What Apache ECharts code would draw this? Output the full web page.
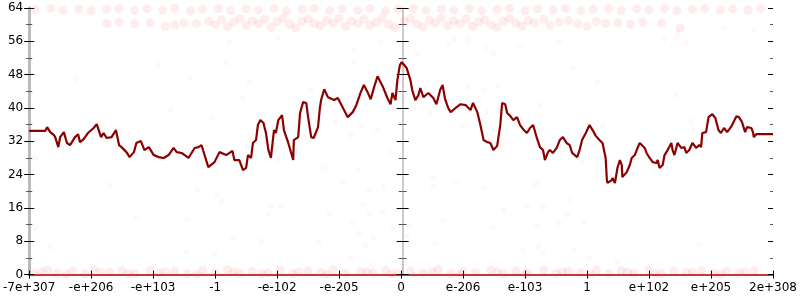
<!DOCTYPE html>
<html>
<head>
<meta charset="utf-8">
<script src="https://cdn.jsdelivr.net/npm/echarts@6/dist/echarts.min.js"></script>
<style>
  html, body { margin: 0; padding: 0; background: #fff; }
  #chart { width: 800px; height: 300px; }
</style>
</head>
<body>
<div id="chart"></div>
<script>
// tick labels along x (one per unit step)
const xLabels = ['-7e+307', '-e+206', '-e+103', '-1', '-e-102', '-e-205', '0',
  'e-206', 'e-103', '1', 'e+102', 'e+205', '2e+308']

// dark red curve [x, y]
const curve = [
  [0, 34.5], [0.26, 34.5], [0.29, 35.4], [0.34, 34.2], [0.40, 33.5], [0.42, 33.0], [0.47, 30.6],
  [0.50, 33.0], [0.56, 34.2], [0.61, 31.6], [0.66, 31.1], [0.74, 33.0], [0.79, 33.7], [0.82, 31.8],
  [0.88, 32.5], [0.95, 34.0], [0.98, 34.2], [1.04, 35.2], [1.09, 36.1], [1.12, 35.9], [1.16, 33.0],
  [1.20, 34.0], [1.25, 32.8], [1.33, 33.0], [1.40, 34.7], [1.45, 31.1], [1.49, 30.6], [1.57, 29.4],
  [1.62, 28.2], [1.69, 29.4], [1.73, 31.6], [1.80, 32.1], [1.86, 29.9], [1.93, 30.6], [2.01, 28.7],
  [2.09, 28.2], [2.17, 28.0], [2.25, 28.7], [2.33, 30.4], [2.38, 29.4], [2.46, 29.2], [2.51, 28.7],
  [2.57, 28.0], [2.62, 29.2], [2.67, 30.4], [2.73, 30.6], [2.78, 31.1], [2.89, 25.8], [2.99, 27.0],
  [3.07, 29.4], [3.18, 28.7], [3.28, 29.7], [3.31, 27.5], [3.39, 27.5], [3.45, 25.1], [3.50, 25.6],
  [3.53, 28.7], [3.58, 28.0], [3.61, 31.6], [3.66, 32.3], [3.69, 35.9], [3.73, 37.1], [3.78, 36.4],
  [3.82, 34.0], [3.86, 29.9], [3.90, 28.0], [3.95, 34.7], [3.98, 34.0], [4.02, 37.1], [4.08, 38.3],
  [4.11, 34.7], [4.18, 31.6], [4.26, 27.5], [4.27, 32.3], [4.34, 33.0], [4.37, 38.8], [4.42, 41.4],
  [4.47, 41.2], [4.50, 37.8], [4.55, 33.0], [4.59, 32.8], [4.66, 35.4], [4.69, 40.0], [4.71, 41.9],
  [4.76, 44.5], [4.82, 42.6], [4.92, 41.9], [4.98, 42.4], [5.08, 39.5], [5.14, 37.8], [5.22, 39.0],
  [5.27, 40.4], [5.35, 43.8], [5.40, 45.5], [5.46, 43.8], [5.51, 42.1], [5.56, 44.8], [5.62, 47.6],
  [5.70, 45.3], [5.78, 42.4], [5.83, 40.9], [5.86, 43.6], [5.91, 41.9], [5.94, 46.7], [5.98, 50.3],
  [6.01, 51.0], [6.04, 50.5], [6.09, 49.6], [6.15, 46.7], [6.18, 44.3], [6.23, 41.9], [6.28, 43.1],
  [6.31, 44.8], [6.36, 42.6], [6.39, 42.4], [6.44, 43.6], [6.47, 43.8], [6.52, 42.4], [6.57, 40.9],
  [6.63, 44.3], [6.67, 45.5], [6.71, 42.1], [6.76, 40.0], [6.80, 39.0], [6.88, 40.0], [6.96, 40.9],
  [7.04, 40.7], [7.12, 39.5], [7.16, 41.2], [7.23, 39.0], [7.28, 35.9], [7.33, 32.3], [7.39, 31.8],
  [7.44, 31.6], [7.49, 29.9], [7.55, 30.9], [7.60, 35.9], [7.63, 41.2], [7.68, 40.9], [7.71, 38.8],
  [7.76, 38.1], [7.81, 37.1], [7.87, 37.8], [7.92, 35.9], [7.98, 34.7], [8.03, 34.0], [8.08, 35.2],
  [8.13, 35.9], [8.19, 32.8], [8.24, 30.6], [8.29, 29.9], [8.32, 27.5], [8.37, 29.4], [8.40, 29.9],
  [8.45, 29.2], [8.51, 30.4], [8.56, 32.3], [8.61, 33.0], [8.67, 31.6], [8.72, 31.1], [8.76, 29.2],
  [8.84, 28.2], [8.88, 29.9], [8.92, 32.3], [8.98, 34.0], [9.04, 35.9], [9.09, 34.7], [9.14, 33.3],
  [9.20, 32.3], [9.25, 31.6], [9.30, 28.0], [9.32, 22.7], [9.33, 22.0], [9.40, 22.7], [9.41, 23.2],
  [9.45, 22.0], [9.49, 25.6], [9.53, 27.5], [9.56, 26.3], [9.57, 23.4], [9.64, 24.6], [9.69, 26.3],
  [9.72, 28.0], [9.77, 28.7], [9.82, 30.6], [9.85, 31.6], [9.93, 30.4], [9.96, 29.2], [10.01, 28.0],
  [10.06, 27.0], [10.12, 26.8], [10.14, 27.5], [10.17, 25.6], [10.22, 26.3], [10.25, 28.7], [10.30, 29.9],
  [10.36, 31.6], [10.38, 29.9], [10.41, 28.7], [10.46, 31.6], [10.52, 30.4], [10.57, 30.6], [10.60, 29.2],
  [10.65, 29.9], [10.70, 31.6], [10.76, 30.4], [10.81, 31.1], [10.84, 30.6], [10.86, 34.0], [10.92, 34.2],
  [10.96, 37.8], [11.02, 38.5], [11.07, 37.6], [11.12, 34.7], [11.16, 34.0], [11.21, 35.2], [11.26, 34.2],
  [11.33, 35.6], [11.41, 38.0], [11.45, 37.8], [11.50, 36.6], [11.55, 34.2], [11.58, 35.4], [11.65, 35.2],
  [11.68, 34.0], [11.69, 33.0], [11.73, 33.7], [12, 33.7]
]

// faint samples hugging y = 0
const lowBand = [
  [0.08, 0.4], [0.3, 1.1], [0.45, 0.3], [0.7, 0.9], [0.9, 0.2], [1.05, 1.2], [1.3, 0.5], [1.5, 0.9],
  [1.7, 0.3], [1.95, 1.1], [2.1, 0.4], [2.35, 0.8], [2.55, 0.2], [2.8, 1.0], [3.0, 0.5], [3.2, 1.2],
  [3.4, 0.3], [3.6, 0.8], [3.85, 0.4], [4.05, 1.1], [4.25, 0.3], [4.5, 0.9], [4.7, 0.5], [4.9, 1.2],
  [5.1, 0.3], [5.35, 0.8], [5.55, 0.4], [5.75, 1.1], [5.95, 0.3], [6.15, 0.9], [6.35, 0.4], [6.6, 1.2],
  [6.8, 0.3], [7.0, 0.8], [7.2, 0.5], [7.45, 1.1], [7.65, 0.3], [7.85, 0.9], [8.05, 0.4], [8.3, 1.2],
  [8.5, 0.3], [8.7, 0.8], [8.9, 0.5], [9.15, 1.1], [9.35, 0.3], [9.55, 0.9], [9.75, 0.4], [10.0, 1.2],
  [10.2, 0.3], [10.4, 0.8], [10.6, 0.5], [10.85, 1.0], [11.05, 0.3], [11.25, 0.8], [11.45, 0.4], [11.7, 0.9],
  [0.2, 0.6], [0.6, 0.1], [1.15, 0.6], [1.6, 0.2], [2.2, 0.7], [2.7, 0.1], [3.3, 0.6], [3.75, 0.2],
  [4.35, 0.6], [4.8, 0.1], [5.45, 0.6], [5.85, 0.2], [6.5, 0.7], [6.95, 0.1], [7.55, 0.6], [8.0, 0.2],
  [8.6, 0.7], [9.05, 0.1], [9.65, 0.6], [10.1, 0.2], [10.7, 0.6], [11.15, 0.1], [11.55, 0.6]
]

// faint samples hugging y = 64
const topBand = [
  [0.1, 63.6], [0.35, 63.9], [0.55, 63.4], [0.8, 63.8], [1.0, 63.3], [1.25, 63.7], [1.45, 63.9], [1.7, 63.4],
  [1.9, 63.8], [2.15, 63.5], [2.35, 63.9], [2.6, 63.3], [2.8, 63.7], [3.05, 63.9], [3.25, 63.4], [3.5, 63.8],
  [3.7, 63.5], [3.95, 63.9], [4.15, 63.3], [4.4, 63.7], [4.6, 63.9], [4.85, 63.4], [5.05, 63.8], [5.3, 63.5],
  [5.5, 63.9], [5.75, 63.3], [5.95, 63.7], [6.2, 63.9], [6.4, 63.4], [6.65, 63.8], [6.85, 63.5], [7.1, 63.9],
  [7.3, 63.3], [7.55, 63.7], [7.75, 63.9], [8.0, 63.4], [8.2, 63.8], [8.45, 63.5], [8.65, 63.9], [8.9, 63.3],
  [9.1, 63.7], [9.35, 63.9], [9.55, 63.4], [9.8, 63.8], [10.0, 63.5], [10.25, 63.9], [10.45, 63.3], [10.7, 63.7],
  [10.9, 63.9], [11.15, 63.4], [11.35, 63.8], [11.6, 63.5], [11.8, 63.9]
]

// cloud a little under the top
const midBand = [
  [1.25, 60.3], [1.45, 60.6], [1.7, 60.2], [1.95, 60.5], [2.2, 59.6], [2.35, 59.9], [2.5, 60.4], [2.7, 60.2],
  [2.9, 60.8], [3.0, 60.0], [3.1, 61.2], [3.2, 59.5], [3.3, 60.6], [3.4, 61.5], [3.5, 59.9], [3.6, 60.9],
  [3.7, 60.2], [3.8, 61.3], [3.9, 59.4], [4.0, 60.7], [4.1, 61.6], [4.2, 60.1], [4.3, 59.2], [4.4, 60.8],
  [4.5, 61.4], [4.6, 60.3], [4.7, 59.7], [4.8, 61.0], [4.9, 60.4], [5.0, 61.5], [5.1, 59.6], [5.2, 60.9],
  [5.3, 60.2], [5.4, 61.3], [5.5, 59.9], [5.6, 60.6], [5.7, 61.6], [5.8, 60.1], [5.9, 59.3], [6.05, 60.8],
  [6.15, 61.5], [6.25, 60.2], [6.35, 59.5], [6.45, 61.1], [6.55, 60.4], [6.65, 61.6], [6.75, 59.8], [6.85, 60.9],
  [6.95, 60.2], [7.05, 61.4], [7.15, 59.6], [7.25, 60.7], [7.35, 61.2], [7.45, 60.0], [7.55, 59.3], [7.65, 60.8],
  [7.75, 61.5], [7.85, 60.3], [7.95, 59.7], [8.05, 61.0], [8.15, 60.4], [8.3, 61.3], [8.4, 59.9], [8.55, 60.6],
  [8.7, 61.0], [8.85, 60.2], [9.0, 59.6], [9.15, 60.8], [9.3, 60.3], [9.5, 60.5], [9.7, 60.1], [9.9, 60.6],
  [10.2, 60.4], [10.5, 59.2]
]

// scattered stray samples
const sparse = [
  [0.76, 46.9], [2.09, 50.3], [2.6, 47.2], [3.18, 50.8], [3.23, 55.8], [3.55, 46], [3.45, 42.4], [5.24, 53.9],
  [5.24, 51], [5.67, 55.8], [4.02, 56.8], [4.55, 44.3], [6.26, 53.2], [6.76, 55.1], [6.84, 56.3], [7.07, 56.3],
  [7.37, 54.4], [7.49, 53.2], [7.92, 54.6], [8.55, 55.8], [8.77, 49.6], [9.16, 46.2], [7.08, 45], [7.33, 44.3],
  [7.57, 45.3], [10.25, 56.5], [10.44, 57], [10.6, 55.6], [10.46, 58.2], [11.21, 59.2], [11.69, 58.7], [10.43, 43.1],
  [0.1, 28.2], [1.3, 21.5], [2.28, 39.5], [2.71, 20.3], [2.94, 37.6], [3.02, 19.1], [4.02, 27.5], [4.74, 25.6],
  [4.95, 36.6], [5.3, 25.1], [5.06, 22.2], [5.48, 20.3], [5.72, 21], [5.83, 29.4], [5.35, 35.9], [5.19, 33.5],
  [5.62, 34.7], [6.47, 39], [7.0, 35.9], [7.36, 39], [7.63, 31.8], [7.6, 29.9], [6.51, 23.2], [6.51, 21],
  [6.88, 22], [7.33, 20.8], [8.16, 21.5], [8.21, 22.2], [8.92, 27], [8.24, 40.7], [9.25, 35.6], [10.68, 36.8],
  [0.1, 11.4], [0.34, 6.6], [1.73, 13.8], [2.54, 13.3], [2.54, 5.4], [3.1, 17.4], [3.9, 16.2], [4.06, 16.7],
  [3.86, 14.5], [3.29, 8.8], [3.74, 8.1], [2.99, 5.2], [4.84, 14.8], [5.22, 12.4], [5.32, 9.7], [5.43, 7.1],
  [5.56, 8.8], [5.38, 16.7], [5.48, 14.8], [5.7, 15], [5.86, 11.2], [4.67, 7.6], [5.54, 2.3], [5.19, 4],
  [6.14, 11.7], [6.1, 9.3], [6.07, 2.8], [6.68, 12.9], [6.55, 7.6], [7.49, 11.4], [7.66, 15.3], [8.03, 16.5],
  [8.29, 16.2], [8.19, 11.7], [8.53, 12.4], [8.69, 14.5], [8.95, 12.6], [7.97, 5.9], [8.22, 6.6], [8.29, 5.2],
  [8.79, 5.7], [9.04, 4], [8.72, 17.9], [9.49, 3], [10.81, 7.1]
]

const font = 'DejaVu Sans'
const yBase = { type: 'value', min: 0, max: 64, interval: 8, splitLine: { show: false } }
const tickStyle = { color: '#000', width: 1 }
const minorStyle = { color: '#555', width: 1 }

// one y axis per side of each vertical rule, so the ticks cross it
function yRule(position, inside, offset, lineWidth, tickLen, withLabel) {
  return Object.assign({}, yBase, {
    position: position,
    offset: offset,
    axisLine: { show: lineWidth > 0, lineStyle: { color: '#bbb', width: lineWidth } },
    axisTick: { show: true, inside: inside, length: tickLen, lineStyle: tickStyle },
    minorTick: { show: true, splitNumber: 2, length: tickLen - 2, lineStyle: minorStyle },
    axisLabel: withLabel
      ? { show: true, margin: 6, color: '#000', fontFamily: font, fontSize: 12 }
      : { show: false }
  })
}

const xBase = { type: 'value', min: 0, max: 12, interval: 1, splitLine: { show: false } }

let chartDom = document.getElementById('chart')
let chart = echarts.init(chartDom, null, { renderer: 'canvas' })

chart.setOption({
  animation: false,
  grid: { left: 27, right: 26, top: 8, bottom: 25.4 },
  xAxis: [
    Object.assign({}, xBase, {
      position: 'bottom',
      axisLine: { show: true, lineStyle: { color: 'rgba(205,40,40,0.7)', width: 1.5 } },
      axisTick: { show: true, inside: false, length: 4, lineStyle: tickStyle },
      axisLabel: {
        show: true, margin: 7, color: '#000', fontFamily: font, fontSize: 12,
        formatter: v => xLabels[Math.round(v)]
      }
    }),
    Object.assign({}, xBase, {
      position: 'bottom',
      axisLine: { show: false },
      axisTick: { show: true, inside: true, length: 4, lineStyle: tickStyle },
      axisLabel: { show: false }
    }),
    Object.assign({}, xBase, {
      position: 'top',
      axisLine: { show: true, lineStyle: { color: 'rgba(190,35,35,0.8)', width: 2 } },
      axisTick: { show: false },
      axisLabel: { show: false }
    })
  ],
  yAxis: [
    yRule('left', false, 0, 3, 5, true),
    yRule('left', true, 0, 0, 5, false),
    yRule('right', false, 0, 3, 5, false),
    yRule('right', true, 0, 0, 5, false),
    yRule('left', false, -373.5, 1.5, 6, false),
    yRule('left', true, -373.5, 0, 6, false)
  ],
  series: [
    {
      // dense bands: overlapping faint dots
      type: 'scatter', clip: false, symbolSize: 9, silent: true,
      itemStyle: { color: 'rgba(240,50,50,0.11)' },
      data: lowBand.concat(topBand, midBand)
    },
    {
      // lone samples are barely visible
      type: 'scatter', clip: false, symbolSize: 6, silent: true,
      itemStyle: { color: 'rgba(240,60,60,0.045)' },
      data: sparse
    },
    {
      type: 'line', showSymbol: false, silent: true, z: 5,
      lineStyle: { color: '#8b0000', width: 2.2 },
      data: curve
    }
  ]
})
</script>
</body>
</html>
